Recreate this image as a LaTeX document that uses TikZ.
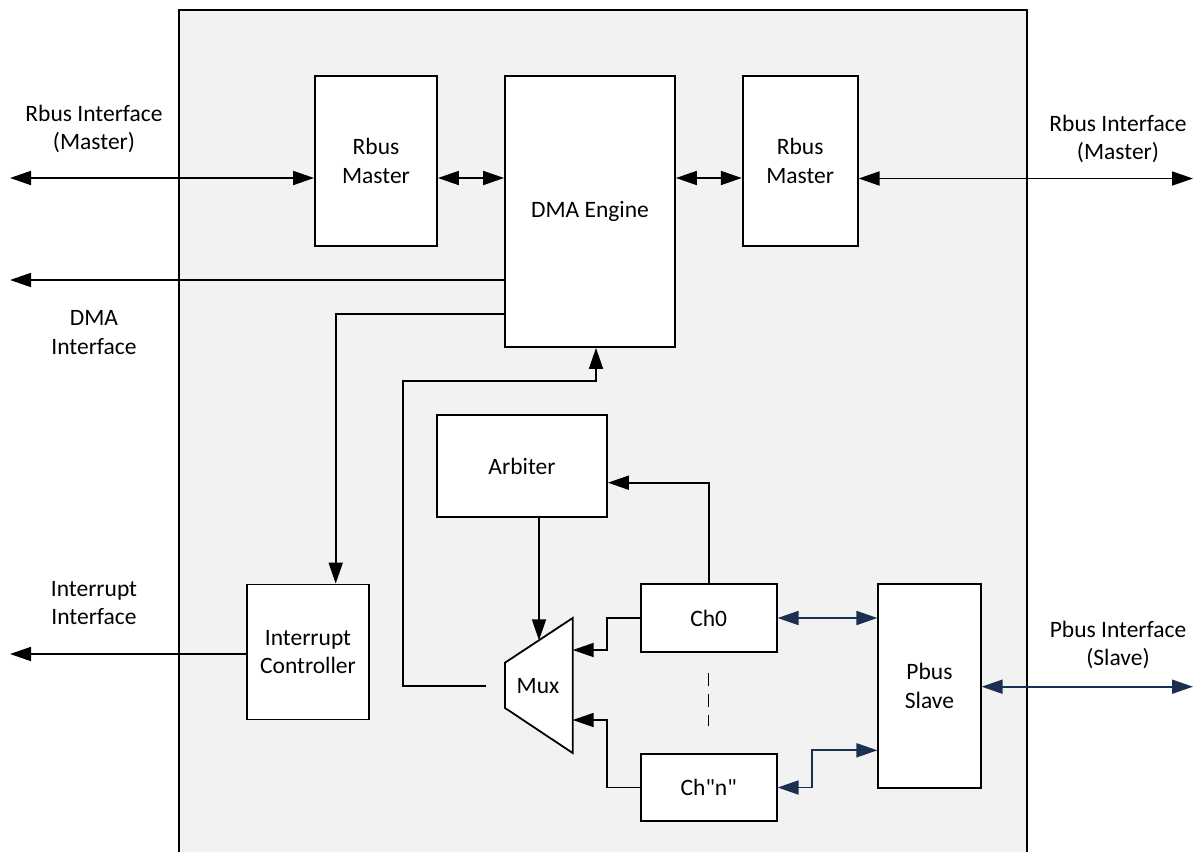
\documentclass[tikz,border=0pt]{standalone}
\usepackage{fontspec}
\setmainfont{Carlito}[Ligatures=TeXOff]
\usetikzlibrary{arrows.meta}
\definecolor{bgfill}{HTML}{F2F2F2}
\definecolor{navy}{HTML}{1B2F50}
\begin{document}
\begin{tikzpicture}[x=1pt,y=-1pt,
  line width=1.8pt,
  >={Triangle[length=21pt,width=14pt]},
  txt/.style={font=\fontsize{23.5}{28.5}\selectfont, align=center, inner sep=0pt},
  box/.style={txt, draw, fill=white, line width=1.8pt},
  lbl/.style={txt}]
\useasboundingbox (0,0) rectangle (1195,852);
\clip (0,0) rectangle (1195,852);
% container
\fill[bgfill] (179,10) rectangle (1027,860);
\draw (179,860) -- (179,10) -- (1027,10) -- (1027,860);

% blocks
\node[box, minimum width=122pt, minimum height=170pt] (rm1) at (376,161) {Rbus\\Master};
\node[box, minimum width=170pt, minimum height=271pt] (dma) at (590,211.5) {DMA Engine};
\node[box, minimum width=115pt, minimum height=170pt] (rm2) at (800.2,161) {Rbus\\Master};
\node[box, minimum width=170pt, minimum height=102pt] (arb) at (522,466) {Arbiter};
\node[box, minimum width=122.6pt, minimum height=135pt] (ic) at (308,652) {Interrupt\\Controller};
\node[box, minimum width=136pt, minimum height=68pt] (ch0) at (708.7,618) {Ch0};
\node[box, minimum width=136pt, minimum height=67pt] (chn) at (708.7,787.5) {Ch"n"};
\node[box, minimum width=102.4pt, minimum height=203.4pt] (pbus) at (929.5,686) {Pbus\\Slave};

% mux
\draw[fill=white] (505,662.7) -- (572.7,618) -- (572.7,753) -- (505,708) -- cycle;
\node[txt] (mux) at (538,686) {Mux};
\coordinate (muxT) at (539,640.3);
\coordinate (muxR1) at (572.7,650);
\coordinate (muxR2) at (572.7,720);
\coordinate (muxL) at (486,686);

% outside labels
\node[lbl] (t1) at (94,129) {Rbus Interface\\(Master)};
\node[lbl] (t2) at (1118,139) {Rbus Interface\\(Master)};
\node[lbl] (t3) at (94,332.5) {DMA\\Interface};
\node[lbl] (t4) at (94,603) {Interrupt\\Interface};
\node[lbl] (t5) at (1118,645) {Pbus Interface\\(Slave)};

% free ends
\coordinate (L1) at (10,178);
\coordinate (R1) at (1193,178.5);
\coordinate (L2) at (10,280);
\coordinate (L3) at (10,654);
\coordinate (R2) at (1193,686.7);

% connectors
\draw[<->] (L1) -- (rm1.west |- L1);
\draw[<->] (rm1.east |- L1) -- (dma.west |- L1);
\draw[<->] (dma.east |- L1) -- (rm2.west |- L1);
\draw[<->] (rm2.east |- R1) -- (R1);
\draw[->] (dma.west |- L2) -- (L2);
\draw[->] (dma.west |- 0,314) -| ([xshift=27.7pt]ic.north);
\draw[->] (ic.west |- L3) -- (L3);
\draw[->] (muxL) -| (402.7,381) -| ([xshift=6pt]dma.south);
\draw[->] (muxT |- arb.south) -- (muxT);
\draw[->] (ch0.north) |- (arb.east |- 0,482.7);
\draw[->] (ch0.west) -- (606.7,618) |- (muxR1);
\draw[->] (chn.west) -- (606.7,787.5) |- (muxR2);
\draw[line width=1.5pt, dash pattern=on 13.5pt off 7.5pt] (708.7,672.7) -- (708.7,726);
\draw[navy,<->] (ch0.east) -- (pbus.west |- ch0.east);
\draw[navy,<->] (chn.east) -- (812.3,787.5) |- (pbus.west |- 0,750.3);
\draw[navy,<->] (pbus.east |- R2) -- (R2);
\end{tikzpicture}
\end{document}
